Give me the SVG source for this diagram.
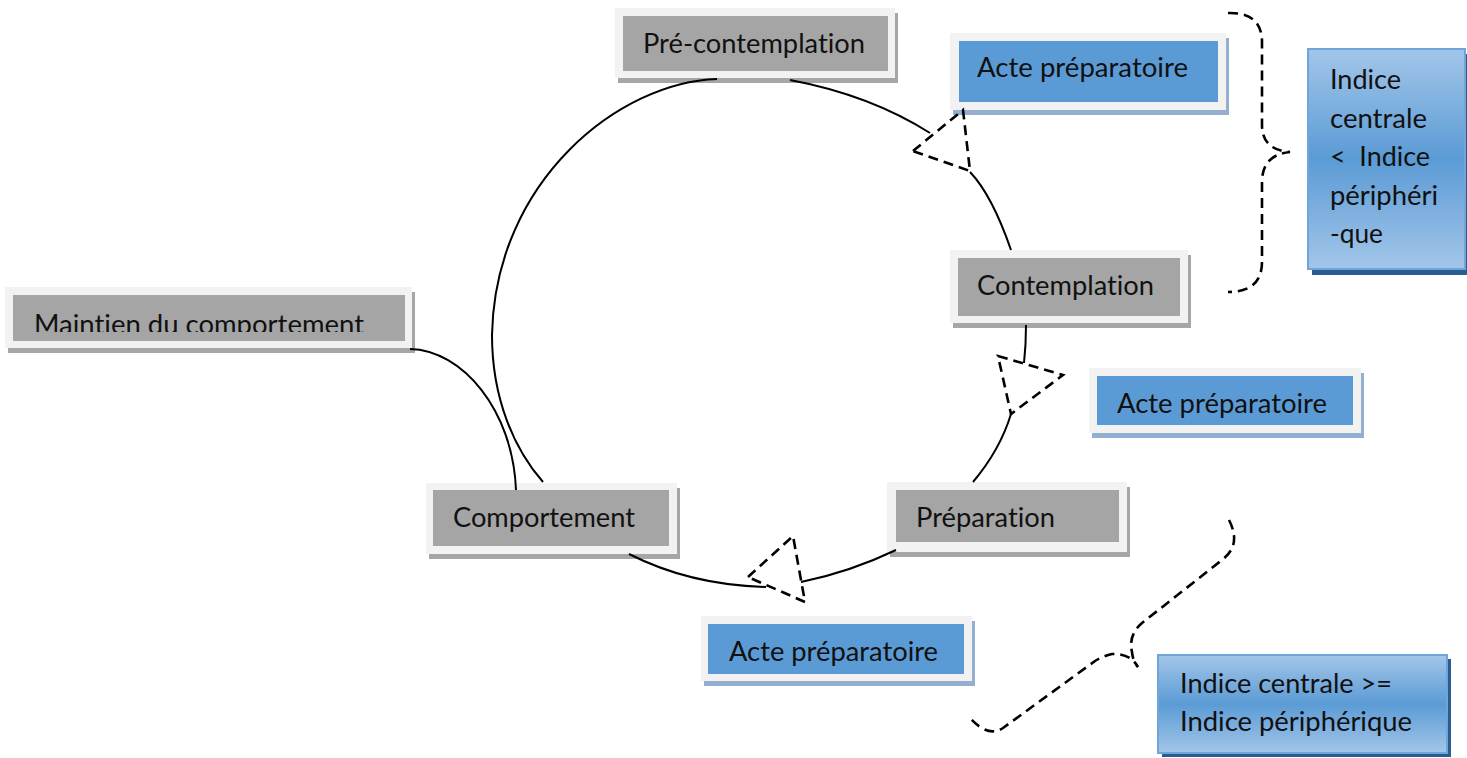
<svg xmlns="http://www.w3.org/2000/svg" width="1467" height="758" viewBox="0 0 1467 758">
<defs>
<style>
.frame{fill:#f2f2f2}
.gsh{fill:#a6a6a6}
.gfill{fill:#a5a5a5}
.bsh{fill:#95afd0}
.bfill{fill:#5b9bd5}
.lbl{font-family:Lato,"Liberation Sans",sans-serif;font-size:26px;fill:#111;font-variant-ligatures:none;font-feature-settings:"liga" 0,"clig" 0}
.curve{fill:none;stroke:#000;stroke-width:2}
.dash{fill:none;stroke:#000;stroke-width:2.6;stroke-dasharray:10 6}
.gbox{fill:url(#blueGrad);stroke:#6fa5db;stroke-width:2}
.dsh{fill:#2a5d8f}
</style>
<linearGradient id="blueGrad" x1="0" y1="0" x2="0" y2="1">
<stop offset="0" stop-color="#a3c6e9"/>
<stop offset="0.5" stop-color="#5b9bd5"/>
<stop offset="1" stop-color="#a3c6e9"/>
</linearGradient>
<clipPath id="clipM"><rect x="0" y="280" width="420" height="52"/></clipPath>
</defs>
<rect width="1467" height="758" fill="#fff"/>

<g id="pre-contemplation">
<rect class="gsh" x="618" y="13" width="280" height="70"/>
<rect class="frame" x="615" y="8" width="280" height="70"/>
<rect class="gfill" x="623" y="16" width="265" height="55"/>
<text class="lbl" x="643" y="53" textLength="222" lengthAdjust="spacingAndGlyphs">Pré-contemplation</text>
</g>

<g id="acte-1">
<rect class="bsh" x="953" y="38" width="276" height="77"/>
<rect class="frame" x="950" y="33" width="276" height="77"/>
<rect class="bfill" x="959" y="41" width="259" height="61"/>
<text class="lbl" x="977" y="77" textLength="211" lengthAdjust="spacingAndGlyphs">Acte préparatoire</text>
</g>

<g id="contemplation">
<rect class="gsh" x="953" y="255" width="238" height="73"/>
<rect class="frame" x="950" y="250" width="238" height="73"/>
<rect class="gfill" x="958" y="258" width="222" height="58"/>
<text class="lbl" x="977" y="295" textLength="177" lengthAdjust="spacingAndGlyphs">Contemplation</text>
</g>

<g id="acte-2">
<rect class="bsh" x="1092" y="373" width="272" height="65"/>
<rect class="frame" x="1089" y="368" width="272" height="65"/>
<rect class="bfill" x="1097" y="376" width="256" height="49"/>
<text class="lbl" x="1117" y="413" textLength="210" lengthAdjust="spacingAndGlyphs">Acte préparatoire</text>
</g>

<g id="preparation">
<rect class="gsh" x="890" y="487" width="240" height="70"/>
<rect class="frame" x="887" y="482" width="240" height="70"/>
<rect class="gfill" x="896" y="490" width="223" height="52"/>
<text class="lbl" x="916" y="527" textLength="139" lengthAdjust="spacingAndGlyphs">Préparation</text>
</g>

<g id="comportement">
<rect class="gsh" x="429" y="488" width="251" height="71"/>
<rect class="frame" x="426" y="483" width="251" height="71"/>
<rect class="gfill" x="433" y="490" width="236" height="56"/>
<text class="lbl" x="453" y="527" textLength="182" lengthAdjust="spacingAndGlyphs">Comportement</text>
</g>

<g id="acte-3">
<rect class="bsh" x="704" y="621" width="271" height="65"/>
<rect class="frame" x="701" y="616" width="271" height="65"/>
<rect class="bfill" x="708" y="624" width="256" height="50"/>
<text class="lbl" x="729" y="661" textLength="209" lengthAdjust="spacingAndGlyphs">Acte préparatoire</text>
</g>

<g id="maintien">
<rect class="gsh" x="8" y="292" width="407" height="61"/>
<rect class="frame" x="5" y="287" width="407" height="61"/>
<rect class="gfill" x="13" y="295" width="392" height="46"/>
<text class="lbl" x="34" y="334" textLength="330" lengthAdjust="spacingAndGlyphs" clip-path="url(#clipM)">Maintien du comportement</text>
</g>

<g id="indice-inf">
<rect class="dsh" x="1312" y="54" width="157" height="221"/>
<rect class="gbox" x="1308" y="49" width="157" height="220"/>
<text class="lbl" x="1330" y="89" textLength="71" lengthAdjust="spacingAndGlyphs">Indice</text>
<text class="lbl" x="1330" y="128" textLength="97" lengthAdjust="spacingAndGlyphs">centrale</text>
<text class="lbl" x="1330" y="166" textLength="100" lengthAdjust="spacingAndGlyphs" xml:space="preserve">&lt;  Indice</text>
<text class="lbl" x="1330" y="205" textLength="108" lengthAdjust="spacingAndGlyphs">périphéri</text>
<text class="lbl" x="1330" y="243" textLength="53" lengthAdjust="spacingAndGlyphs">-que</text>
</g>

<g id="indice-sup">
<rect class="dsh" x="1162" y="659" width="289" height="98"/>
<rect class="gbox" x="1158" y="655" width="289" height="98"/>
<text class="lbl" x="1180" y="693" textLength="212" lengthAdjust="spacingAndGlyphs">Indice centrale &gt;=</text>
<text class="lbl" x="1180" y="731" textLength="232" lengthAdjust="spacingAndGlyphs">Indice périphérique</text>
</g>

<g id="connectors">
<path class="curve" d="M717,79 C620,82 495,180 492,335 C492,400 515,450 543,482"/>
<path class="curve" d="M790,80 Q870,95 930,133"/>
<path class="curve" d="M970,172 Q992,195 1011,250"/>
<path class="curve" d="M1026,325 Q1026,345 1024,363"/>
<path class="curve" d="M1011,414 Q1000,450 973,482"/>
<path class="curve" d="M896,550 Q850,572 801,582"/>
<path class="curve" d="M629,554 Q690,585 766,587"/>
<path class="curve" d="M410,349 C462,350 513,410 516,490"/>
<polygon class="dash" points="913,151 963,110 970,171"/>
<polygon class="dash" points="998,356 1063,375 1011,414"/>
<polygon class="dash" points="748,577 793,536 805,602"/>
<path class="dash" d="M1228,13 Q1262,12 1262,42 L1262,125 Q1262,150 1290,152 Q1262,155 1262,182 L1262,262 Q1262,292 1228,292"/>
<path class="dash" d="M1229,520 Q1242,545 1222,560 L1142,623 Q1128,635 1132,652 Q1133,662 1138,667 Q1130,653 1112,654 Q1103,656 1095,661 L1003,728 Q988,738 970,718"/>
</g>
</svg>
